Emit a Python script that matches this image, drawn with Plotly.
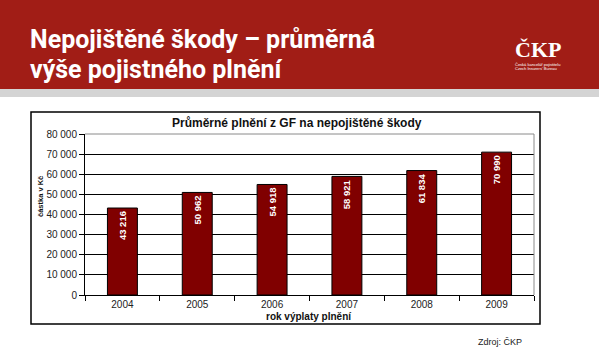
import plotly.graph_objects as go

years = ["2004", "2005", "2006", "2007", "2008", "2009"]
values = [43216, 50962, 54918, 58921, 61834, 70990]
y_ticks = [0, 10000, 20000, 30000, 40000, 50000, 60000, 70000, 80000]
labels = [f"{v:,}".replace(",", " ") for v in values]

W, H = 599, 352
PL, PR, PT, PB = 85, 534, 134, 295


def px(x):
    return (x - PL) / (PR - PL)


def py(y):
    return (PB - y) / (PB - PT)


fig = go.Figure()
fig.add_trace(go.Bar(
    x=years, y=values, text=labels,
    marker=dict(color="#800000", line=dict(color="#000000", width=1)),
    textposition="inside", insidetextanchor="end", textangle=-90,
    constraintext="none",
    insidetextfont=dict(color="white", size=9.5, family="Liberation Sans, Arial", weight="bold"),
    hoverinfo="skip",
))

shapes = [
    dict(type="rect", xref="paper", yref="paper", x0=px(0), x1=px(W), y0=py(0), y1=py(89),
         fillcolor="#a11d16", line=dict(width=0), layer="below"),
    dict(type="rect", xref="paper", yref="paper", x0=px(0), x1=px(W), y0=py(89), y1=py(97),
         fillcolor="#d4d4d4", line=dict(width=0), layer="below"),
    dict(type="rect", xref="paper", yref="paper", x0=px(31), x1=px(540), y0=py(112), y1=py(324),
         line=dict(color="#000000", width=1.5), layer="below"),
    dict(type="line", xref="paper", yref="paper", x0=0, x1=1, y0=1, y1=1,
         line=dict(color="#8a8a8a", width=1), layer="above"),
    dict(type="line", xref="paper", yref="paper", x0=1, x1=1, y0=0, y1=1,
         line=dict(color="#8a8a8a", width=1), layer="above"),
]

head = "Roboto, Liberation Sans, Arial, sans-serif"
annotations = [
    dict(text="Nepojištěné škody – průměrná", x=px(28), y=py(39), xanchor="left", yanchor="middle",
         font=dict(size=25, color="white", family=head, weight="bold")),
    dict(text="výše pojistného plnění", x=px(28), y=py(69), xanchor="left", yanchor="middle",
         font=dict(size=25, color="white", family=head, weight="bold")),
    dict(text="ČKP", x=px(538), y=py(50), xanchor="center", yanchor="middle",
         font=dict(size=22, color="white", family="Liberation Serif, DejaVu Serif, serif", weight="bold")),
    dict(text="Česká kancelář pojistitelů", x=px(513), y=py(64), xanchor="left", yanchor="middle",
         font=dict(size=4, color="white", family="Liberation Sans, Arial")),
    dict(text="Czech Insurers' Bureau", x=px(513), y=py(68.5), xanchor="left", yanchor="middle",
         font=dict(size=4, color="white", family="Liberation Sans, Arial")),
    dict(text="Průměrné plnění z GF na nepojištěné škody", x=px(297), y=py(123), xanchor="center",
         yanchor="middle", font=dict(size=12, color="#111111", family="Liberation Sans, Arial", weight="bold")),
    dict(text="rok výplaty plnění", x=px(309), y=py(316), xanchor="center", yanchor="middle",
         font=dict(size=10, color="#111111", family="Liberation Sans, Arial", weight="bold")),
    dict(text="částka v Kč", x=px(40), y=py(197), xanchor="center", yanchor="middle", textangle=-90,
         font=dict(size=7.5, color="#111111", family="Liberation Sans, Arial", weight="bold")),
    dict(text="Zdroj: ČKP", x=px(476), y=py(342), xanchor="left", yanchor="middle",
         font=dict(size=9, color="#222222", family="Liberation Sans, Arial")),
]
for a in annotations:
    a.update(xref="paper", yref="paper", showarrow=False)

fig.update_layout(
    width=W, height=H,
    margin=dict(l=PL, r=W - PR, t=PT, b=H - PB, pad=0),
    paper_bgcolor="white", plot_bgcolor="white",
    separators=", ",
    bargap=0.6,
    showlegend=False,
    shapes=shapes,
    annotations=annotations,
    font=dict(family="Liberation Sans, Arial", color="#222222", size=10),
    xaxis=dict(type="category", showline=True, linecolor="#000000", linewidth=1,
               ticks="outside", tickson="boundaries", ticklen=5, tickcolor="#000000",
               showgrid=False, tickfont=dict(size=10, color="#222222"), fixedrange=True),
    yaxis=dict(range=[0, 80000], tickvals=y_ticks, tickformat=",d", showgrid=True,
               gridcolor="#000000", gridwidth=1, showline=True, linecolor="#000000", linewidth=1,
               ticks="outside", ticklen=5, tickcolor="#000000", zeroline=False,
               tickfont=dict(size=10, color="#222222"), fixedrange=True),
)

fig.write_html("out.html", config={"displayModeBar": False})
